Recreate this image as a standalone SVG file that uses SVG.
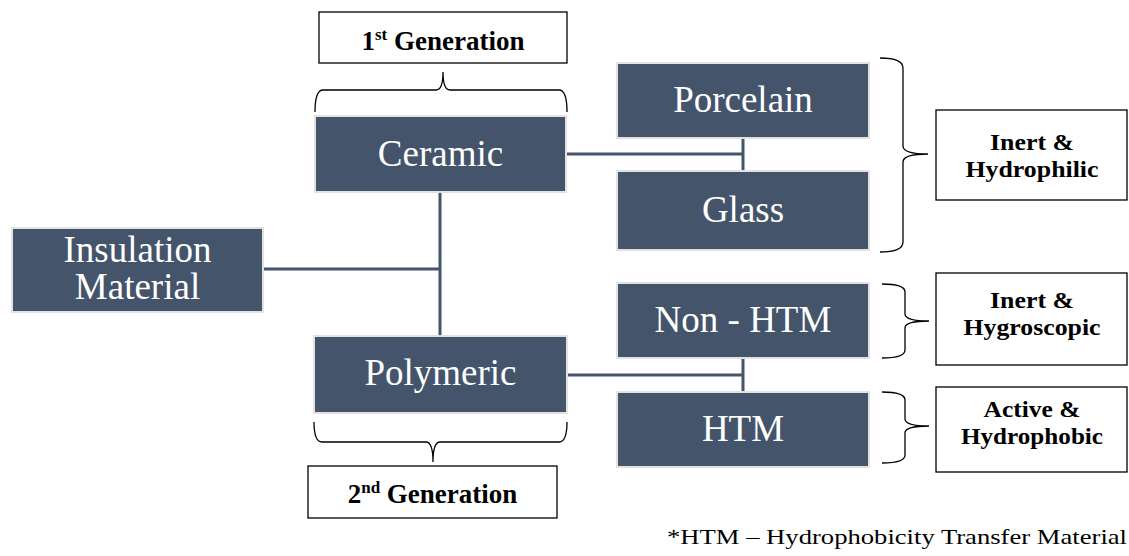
<svg xmlns="http://www.w3.org/2000/svg" width="1129" height="556" viewBox="0 0 1129 556">
<style>
.node{fill:#44546a;stroke:#e2e2e2;stroke-width:2}
.nt{font-family:'Liberation Serif',serif;font-size:37px;fill:#ffffff;text-anchor:middle}
.lbl{fill:#ffffff;stroke:#000000;stroke-width:1.3}
.lt{font-family:'Liberation Serif',serif;font-size:23px;font-weight:bold;fill:#000000;text-anchor:middle}
.gt{font-family:'Liberation Serif',serif;font-size:27px;font-weight:bold;fill:#000000;text-anchor:middle}
.ft{font-family:'Liberation Serif',serif;font-size:22px;fill:#000000}
.con{fill:none;stroke:#44546a;stroke-width:3}
.brace{fill:none;stroke:#000000;stroke-width:1.3}
</style>
<rect width="1129" height="556" fill="#ffffff"/>
<g id="connectors">
<path class="con" d="M263,269 H440 M440,192 V336"/>
<path class="con" d="M567,154 H743 M743,139 V170"/>
<path class="con" d="M567,375 H743 M743,358 V392"/>
</g>
<g id="braces">
<path class="brace" d="M315,112 Q315,90 323,90 L436,90 Q443,90 443,72 Q443,90 450,90 L559,90 Q567,90 567,112"/>
<path class="brace" d="M314,422 Q314,442 322,442 L426,442 Q433,442 433,462 Q433,442 440,442 L559,442 Q567,442 567,422"/>
<path class="brace" d="M880,58 Q903,58 903,68 L903,146 Q903,154 928,154 Q903,154 903,162 L903,242 Q903,252 880,252"/>
<path class="brace" d="M882,284 Q905,284 905,292 L905,314 Q905,321 929,321 Q905,321 905,328 L905,350 Q905,358 882,358"/>
<path class="brace" d="M882,392 Q905,392 905,400 L905,419 Q905,426 929,426 Q905,426 905,433 L905,455 Q905,463 882,463"/>
</g>
<g id="gen1">
<rect class="lbl" x="319" y="12" width="248" height="51"/>
<text class="gt" x="443" y="50">1<tspan font-size="17" dy="-10">st</tspan><tspan dy="10"> Generation</tspan></text>
</g>
<g id="gen2">
<rect class="lbl" x="308" y="466" width="249" height="52"/>
<text class="gt" x="432.5" y="503">2<tspan font-size="17" dy="-10">nd</tspan><tspan dy="10"> Generation</tspan></text>
</g>
<g id="insulation">
<rect class="node" x="12" y="228" width="251" height="84"/>
<text class="nt" x="137.5" y="262">Insulation<tspan x="137.5" dy="37">Material</tspan></text>
</g>
<g id="ceramic">
<rect class="node" x="315" y="116" width="251" height="76"/>
<text class="nt" x="440.5" y="166">Ceramic</text>
</g>
<g id="polymeric">
<rect class="node" x="314" y="336" width="253" height="77"/>
<text class="nt" x="440.5" y="385">Polymeric</text>
</g>
<g id="porcelain">
<rect class="node" x="617" y="63" width="252" height="75"/>
<text class="nt" x="743" y="112">Porcelain</text>
</g>
<g id="glass">
<rect class="node" x="617" y="171" width="252" height="79"/>
<text class="nt" x="743" y="222">Glass</text>
</g>
<g id="nonhtm">
<rect class="node" x="617" y="283" width="252" height="75"/>
<text class="nt" x="743" y="332">Non - HTM</text>
</g>
<g id="htm">
<rect class="node" x="617" y="392" width="252" height="75"/>
<text class="nt" x="743" y="441">HTM</text>
</g>
<g id="hydrophilic">
<rect class="lbl" x="936" y="110" width="191" height="90"/>
<text class="lt" x="1032" y="150" textLength="84" lengthAdjust="spacingAndGlyphs">Inert &amp;</text>
<text class="lt" x="1032" y="177" textLength="133" lengthAdjust="spacingAndGlyphs">Hydrophilic</text>
</g>
<g id="hygroscopic">
<rect class="lbl" x="936" y="273" width="191" height="92"/>
<text class="lt" x="1032" y="308" textLength="84" lengthAdjust="spacingAndGlyphs">Inert &amp;</text>
<text class="lt" x="1032" y="335" textLength="137" lengthAdjust="spacingAndGlyphs">Hygroscopic</text>
</g>
<g id="hydrophobic">
<rect class="lbl" x="936" y="387" width="191" height="85"/>
<text class="lt" x="1032" y="417" textLength="97" lengthAdjust="spacingAndGlyphs">Active &amp;</text>
<text class="lt" x="1032" y="444" textLength="142" lengthAdjust="spacingAndGlyphs">Hydrophobic</text>
</g>
<text class="ft" x="667" y="544" textLength="460" lengthAdjust="spacingAndGlyphs">*HTM – Hydrophobicity Transfer Material</text>
</svg>
